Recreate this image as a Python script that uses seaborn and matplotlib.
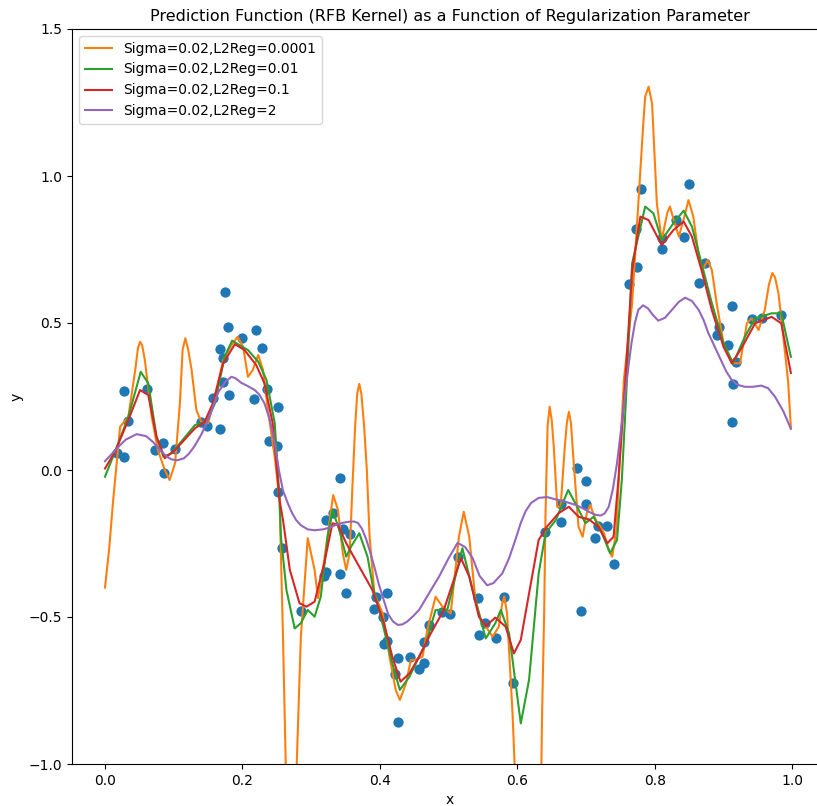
import numpy as np
import pandas as pd
import matplotlib
matplotlib.use("Agg")
import matplotlib.pyplot as plt
import seaborn as sns

# ---- scatter data (observations) ----
pts_x = [0.017, 0.028, 0.028, 0.034, 0.061, 0.073, 0.085, 0.086, 0.102, 0.140,
         0.148, 0.157, 0.168, 0.168, 0.172, 0.172, 0.175, 0.179, 0.181, 0.199,
         0.217, 0.220, 0.228, 0.236, 0.239, 0.251, 0.252, 0.252, 0.257, 0.285,
         0.319, 0.322, 0.322, 0.332, 0.342, 0.342, 0.346, 0.350, 0.356, 0.395,
         0.411, 0.392, 0.404, 0.406, 0.410, 0.422, 0.426, 0.427, 0.444, 0.457,
         0.464, 0.464, 0.472, 0.491, 0.502, 0.513, 0.543, 0.544, 0.553, 0.569,
         0.580, 0.593, 0.640, 0.663, 0.663, 0.687, 0.693, 0.700, 0.700, 0.713,
         0.718, 0.731, 0.740, 0.762, 0.772, 0.774, 0.780, 0.810, 0.811, 0.831,
         0.843, 0.850, 0.864, 0.873, 0.890, 0.893, 0.907, 0.913, 0.914, 0.912,
         0.918, 0.941, 0.956, 0.983]
pts_y = [0.059, 0.043, 0.270, 0.168, 0.275, 0.068, 0.091, -0.009, 0.071, 0.164,
         0.150, 0.244, 0.140, 0.413, 0.380, 0.300, 0.604, 0.485, 0.255, 0.448,
         0.243, 0.476, 0.416, 0.274, 0.100, 0.082, 0.215, -0.074, -0.264, -0.480,
         -0.361, -0.346, -0.170, -0.145, -0.028, -0.355, -0.202, -0.420, -0.218, -0.433,
         -0.420, -0.474, -0.499, -0.592, -0.580, -0.694, -0.640, -0.856, -0.635, -0.678,
         -0.655, -0.584, -0.527, -0.482, -0.490, -0.297, -0.436, -0.561, -0.519, -0.573,
         -0.432, -0.726, -0.210, -0.176, -0.116, 0.008, -0.479, -0.037, -0.116, -0.232,
         -0.190, -0.189, -0.320, 0.632, 0.821, 0.692, 0.955, 0.788, 0.751, 0.850,
         0.794, 0.972, 0.637, 0.705, 0.459, 0.485, 0.425, 0.558, 0.291, 0.162,
         0.368, 0.513, 0.516, 0.527]

# ---- prediction curves ----
orange_x = [0.0, 0.006, 0.012, 0.022, 0.034, 0.044, 0.048, 0.051, 0.054, 0.058,
            0.068, 0.077, 0.087, 0.094, 0.102, 0.109, 0.113, 0.117, 0.121, 0.126,
            0.133, 0.140, 0.150, 0.160, 0.172, 0.184, 0.193, 0.201, 0.208, 0.215,
            0.223, 0.230, 0.237, 0.247, 0.254, 0.259, 0.263, 0.271, 0.279, 0.285,
            0.295, 0.305, 0.310, 0.317, 0.327, 0.332, 0.339, 0.346, 0.351, 0.356,
            0.360, 0.364, 0.367, 0.370, 0.373, 0.377, 0.381, 0.385, 0.392, 0.404,
            0.414, 0.423, 0.429, 0.438, 0.445, 0.452, 0.462, 0.469, 0.481, 0.491,
            0.503, 0.515, 0.522, 0.530, 0.539, 0.547, 0.556, 0.564, 0.573, 0.578,
            0.581, 0.585, 0.593, 0.596, 0.615, 0.635, 0.636, 0.639, 0.641, 0.644,
            0.647, 0.650, 0.653, 0.658, 0.663, 0.669, 0.672, 0.675, 0.678, 0.682,
            0.689, 0.695, 0.701, 0.706, 0.714, 0.721, 0.726, 0.733, 0.738, 0.744,
            0.750, 0.755, 0.767, 0.776, 0.783, 0.786, 0.791, 0.796, 0.799, 0.803,
            0.810, 0.818, 0.822, 0.829, 0.835, 0.843, 0.849, 0.856, 0.864, 0.869,
            0.877, 0.883, 0.890, 0.900, 0.912, 0.924, 0.934, 0.941, 0.951, 0.960,
            0.966, 0.971, 0.975, 0.980, 0.987, 0.994, 0.998]
orange_y = [-0.40, -0.27, -0.10, 0.147, 0.181, 0.340, 0.415, 0.436, 0.425, 0.374,
            0.181, 0.068, 0.0, -0.034, 0.023, 0.227, 0.410, 0.448, 0.410, 0.340,
            0.204, 0.164, 0.159, 0.249, 0.374, 0.425, 0.453, 0.419, 0.317, 0.340,
            0.391, 0.340, 0.204, 0.045, -0.102, -0.567, -1.0, -1.5, -1.0, -0.567,
            -0.232, -0.340, -0.436, -0.340, -0.170, -0.085, -0.136, -0.283, -0.340, -0.283,
            -0.057, 0.150, 0.260, 0.293, 0.260, 0.150, 0.0, -0.227, -0.420, -0.488,
            -0.635, -0.748, -0.782, -0.726, -0.646, -0.646, -0.635, -0.544, -0.431, -0.465,
            -0.488, -0.227, -0.142, -0.227, -0.442, -0.510, -0.539, -0.567, -0.533, -0.453,
            -0.430, -0.488, -0.828, -1.0, -1.6, -1.0, -0.828, -0.488, -0.147, 0.150,
            0.215, 0.170, 0.079, -0.125, -0.125, 0.079, 0.160, 0.198, 0.160, 0.023,
            -0.193, -0.227, -0.147, -0.119, -0.170, -0.193, -0.215, -0.272, -0.295, -0.204,
            0.079, 0.306, 0.567, 0.907, 1.170, 1.270, 1.304, 1.247, 1.100, 0.907,
            0.782, 0.873, 0.896, 0.839, 0.794, 0.862, 0.918, 0.862, 0.726, 0.680,
            0.714, 0.680, 0.567, 0.431, 0.363, 0.363, 0.499, 0.516, 0.476, 0.544,
            0.630, 0.670, 0.655, 0.600, 0.453, 0.300, 0.143]

green_x = [0.0, 0.0145, 0.034, 0.052, 0.063, 0.075, 0.085, 0.097, 0.131, 0.148,
           0.160, 0.174, 0.185, 0.208, 0.223, 0.235, 0.247, 0.254, 0.256, 0.264,
           0.276, 0.285, 0.295, 0.305, 0.314, 0.324, 0.331, 0.341, 0.351, 0.358,
           0.370, 0.382, 0.390, 0.399, 0.418, 0.429, 0.443, 0.457, 0.467, 0.481,
           0.498, 0.520, 0.535, 0.554, 0.568, 0.576, 0.588, 0.605, 0.617, 0.631,
           0.641, 0.656, 0.674, 0.687, 0.699, 0.711, 0.723, 0.735, 0.745, 0.752,
           0.758, 0.767, 0.786, 0.798, 0.810, 0.827, 0.842, 0.854, 0.868, 0.883,
           0.900, 0.914, 0.931, 0.946, 0.970, 0.984, 0.998]
green_y = [-0.023, 0.062, 0.181, 0.334, 0.295, 0.113, 0.045, 0.057, 0.153, 0.164,
           0.227, 0.385, 0.440, 0.408, 0.368, 0.306, 0.159, -0.102, -0.227, -0.408,
           -0.539, -0.521, -0.476, -0.499, -0.431, -0.227, -0.136, -0.204, -0.295, -0.261,
           -0.215, -0.295, -0.400, -0.476, -0.658, -0.748, -0.703, -0.635, -0.590, -0.476,
           -0.476, -0.266, -0.408, -0.573, -0.521, -0.476, -0.556, -0.862, -0.714, -0.352,
           -0.215, -0.170, -0.068, -0.125, -0.181, -0.159, -0.215, -0.283, -0.238, -0.034,
           0.238, 0.703, 0.896, 0.873, 0.782, 0.839, 0.882, 0.828, 0.703, 0.567,
           0.431, 0.363, 0.453, 0.516, 0.533, 0.533, 0.385]

red_x = [0.0, 0.0145, 0.034, 0.051, 0.063, 0.075, 0.087, 0.102, 0.131, 0.145,
         0.157, 0.172, 0.189, 0.203, 0.220, 0.232, 0.244, 0.254, 0.259, 0.269,
         0.283, 0.293, 0.305, 0.319, 0.331, 0.339, 0.351, 0.370, 0.389, 0.406,
         0.418, 0.430, 0.443, 0.457, 0.474, 0.493, 0.518, 0.530, 0.544, 0.554,
         0.568, 0.583, 0.595, 0.605, 0.617, 0.631, 0.643, 0.660, 0.675, 0.689,
         0.704, 0.718, 0.731, 0.740, 0.747, 0.757, 0.767, 0.779, 0.791, 0.810,
         0.827, 0.842, 0.854, 0.868, 0.883, 0.900, 0.912, 0.926, 0.946, 0.970,
         0.984, 0.998]
red_y = [0.005, 0.062, 0.170, 0.272, 0.255, 0.113, 0.040, 0.068, 0.142, 0.164,
         0.227, 0.363, 0.428, 0.408, 0.357, 0.295, 0.159, -0.102, -0.170, -0.340,
         -0.453, -0.465, -0.448, -0.317, -0.181, -0.187, -0.249, -0.329, -0.408, -0.521,
         -0.635, -0.720, -0.692, -0.635, -0.556, -0.476, -0.300, -0.363, -0.499, -0.531,
         -0.502, -0.533, -0.624, -0.578, -0.420, -0.238, -0.193, -0.147, -0.125, -0.159,
         -0.168, -0.193, -0.249, -0.227, -0.034, 0.300, 0.680, 0.862, 0.850, 0.765,
         0.816, 0.845, 0.794, 0.680, 0.544, 0.419, 0.363, 0.414, 0.499, 0.521,
         0.499, 0.330]

purple_x = [0.0, 0.010, 0.020, 0.030, 0.046, 0.060, 0.070, 0.080, 0.090, 0.097,
            0.105, 0.115, 0.122, 0.130, 0.140, 0.150, 0.165, 0.175, 0.184, 0.190,
            0.198, 0.208, 0.218, 0.225, 0.232, 0.240, 0.247, 0.253, 0.259, 0.266,
            0.272, 0.278, 0.285, 0.295, 0.305, 0.317, 0.325, 0.336, 0.345, 0.355,
            0.362, 0.368, 0.374, 0.380, 0.386, 0.392, 0.398, 0.404, 0.412, 0.419,
            0.426, 0.433, 0.440, 0.448, 0.457, 0.470, 0.486, 0.500, 0.513, 0.524,
            0.535, 0.545, 0.556, 0.565, 0.578, 0.588, 0.597, 0.605, 0.612, 0.620,
            0.631, 0.643, 0.656, 0.670, 0.685, 0.695, 0.704, 0.713, 0.721, 0.727,
            0.733, 0.739, 0.745, 0.751, 0.757, 0.762, 0.766, 0.771, 0.776, 0.783,
            0.790, 0.797, 0.805, 0.815, 0.825, 0.835, 0.844, 0.854, 0.864, 0.871,
            0.878, 0.888, 0.897, 0.904, 0.912, 0.920, 0.931, 0.943, 0.955, 0.965,
            0.975, 0.987, 0.998]
purple_y = [0.030, 0.055, 0.080, 0.103, 0.122, 0.115, 0.095, 0.068, 0.045, 0.036,
            0.033, 0.040, 0.055, 0.080, 0.120, 0.170, 0.265, 0.300, 0.317, 0.312,
            0.297, 0.285, 0.272, 0.255, 0.227, 0.170, 0.091, 0.000, -0.070, -0.113,
            -0.145, -0.170, -0.188, -0.202, -0.205, -0.202, -0.197, -0.187, -0.180, -0.176,
            -0.175, -0.180, -0.200, -0.235, -0.280, -0.330, -0.385, -0.431, -0.490, -0.515,
            -0.527, -0.525, -0.515, -0.498, -0.476, -0.425, -0.363, -0.300, -0.248, -0.262,
            -0.300, -0.360, -0.392, -0.385, -0.352, -0.300, -0.238, -0.180, -0.140, -0.112,
            -0.095, -0.092, -0.100, -0.108, -0.119, -0.130, -0.142, -0.152, -0.155, -0.148,
            -0.125, -0.065, 0.023, 0.140, 0.261, 0.360, 0.430, 0.500, 0.545, 0.560,
            0.550, 0.528, 0.508, 0.518, 0.545, 0.572, 0.586, 0.575, 0.544, 0.510,
            0.465, 0.415, 0.370, 0.335, 0.306, 0.290, 0.283, 0.283, 0.287, 0.278,
            0.249, 0.200, 0.140]

labels = ["Sigma=0.02,L2Reg=0.0001", "Sigma=0.02,L2Reg=0.01",
          "Sigma=0.02,L2Reg=0.1", "Sigma=0.02,L2Reg=2"]
colors = ["#ff7f0e", "#2ca02c", "#d62728", "#9467bd"]
curves = [(orange_x, orange_y), (green_x, green_y), (red_x, red_y), (purple_x, purple_y)]

fig = plt.figure(figsize=(8.17, 8.06), dpi=100)
ax = fig.add_axes([72 / 817, 42 / 806, 756 / 817, 735 / 806])

sns.scatterplot(x=pts_x, y=pts_y, ax=ax, color="#1f77b4", s=55, linewidth=0)

for (cx, cy), lab, col in zip(curves, labels, colors):
    sns.lineplot(x=cx, y=cy, ax=ax, color=col, label=lab, sort=False,
                 estimator=None, linewidth=1.5)

ax.set_xlim(-0.048, 1.052)
ax.set_ylim(-1.0, 1.5)
ax.set_xticks([0.0, 0.2, 0.4, 0.6, 0.8, 1.0])
ax.set_yticks([-1.0, -0.5, 0.0, 0.5, 1.0, 1.5])
ax.set_xlabel("x")
ax.set_ylabel("y")
ax.set_title("Prediction Function (RFB Kernel) as a Function of Regularization Parameter",
             fontsize=11.5)
ax.legend(loc="upper left")

fig.savefig("out.png", dpi=100)
